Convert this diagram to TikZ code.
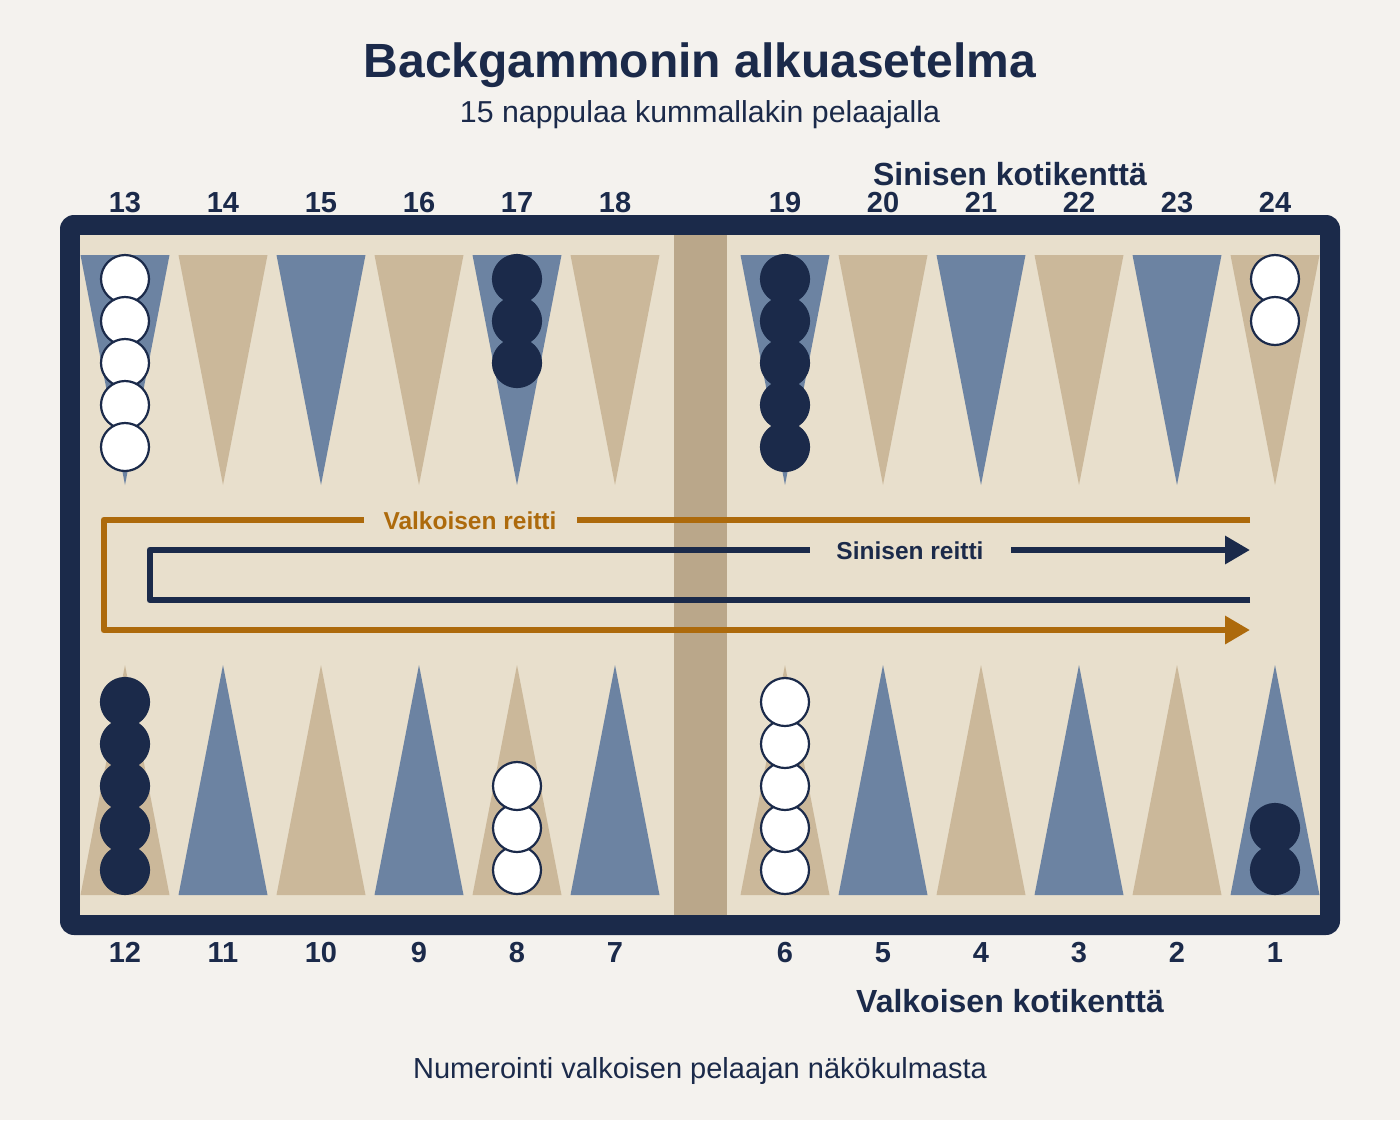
\documentclass[tikz,border=0pt]{standalone}
\usepackage{fontspec}
\setmainfont{Liberation Sans}
\usetikzlibrary{arrows.meta}
\definecolor{bg}{HTML}{F4F2EE}
\definecolor{board}{HTML}{E8DFCC}
\definecolor{tanpt}{HTML}{CBB89A}
\definecolor{bluept}{HTML}{6C83A2}
\definecolor{barc}{HTML}{BAA78A}
\definecolor{navy}{HTML}{1B2A4A}
\definecolor{orng}{HTML}{AD6A0C}
\begin{document}
\begin{tikzpicture}[x=1pt,y=-1pt,
  txt/.style={text=navy, inner sep=0pt, anchor=base},
  numlbl/.style={txt, font=\fontsize{29}{31}\selectfont\bfseries},
  wchk/.style={fill=white, draw=navy, line width=2.2pt},
  bchk/.style={fill=navy, draw=navy, line width=2.2pt},
  oroute/.style={draw=orng, line width=6.8pt, line join=round},
  broute/.style={draw=navy, line width=6.8pt, line join=round},
  tip/.style={-{Triangle[length=25pt,width=27pt]}},
  routelbl/.style={inner sep=0pt, anchor=base, font=\fontsize{24.5}{26}\selectfont\bfseries}]
\fill[bg] (0,0) rectangle (1400,1120);
\useasboundingbox (0,0) rectangle (1400,1120);

% titles
\node[txt, font=\fontsize{48}{52}\selectfont\bfseries] (title) at (700,77) {Backgammonin alkuasetelma};
\node[txt, font=\fontsize{30.3}{32}\selectfont] (subtitle) at (700,122) {15 nappulaa kummallakin pelaajalla};
\node[txt, font=\fontsize{32}{34}\selectfont\bfseries] (bluehome) at (1010,185) {Sinisen kotikenttä};

% board
\fill[navy, rounded corners=14pt] (60,215) rectangle (1340,935);
\fill[board] (80,235) rectangle (1320,915);
\fill[barc] (674,235) rectangle (727,915);

% points
\foreach \i in {0,...,5}{
  \pgfmathsetmacro{\xl}{125+98*\i}
  \pgfmathsetmacro{\xr}{785+98*\i}
  \pgfmathtruncatemacro{\ev}{mod(\i,2)}
  \ifnum\ev=0
    \def\ctop{bluept}\def\cbot{tanpt}
  \else
    \def\ctop{tanpt}\def\cbot{bluept}
  \fi
  \fill[\ctop] (\xl-44.5,255) -- (\xl+44.5,255) -- (\xl,485) -- cycle;
  \fill[\ctop] (\xr-44.5,255) -- (\xr+44.5,255) -- (\xr,485) -- cycle;
  \fill[\cbot] (\xl-44.5,895) -- (\xl+44.5,895) -- (\xl,665) -- cycle;
  \fill[\cbot] (\xr-44.5,895) -- (\xr+44.5,895) -- (\xr,665) -- cycle;
  \pgfmathtruncatemacro{\ntl}{13+\i}
  \pgfmathtruncatemacro{\ntr}{19+\i}
  \pgfmathtruncatemacro{\nbl}{12-\i}
  \pgfmathtruncatemacro{\nbr}{6-\i}
  \node[numlbl] (n\ntl) at (\xl,212) {\ntl};
  \node[numlbl] (n\ntr) at (\xr,212) {\ntr};
  \node[numlbl] (n\nbl) at (\xl,962) {\nbl};
  \node[numlbl] (n\nbr) at (\xr,962) {\nbr};
}

% checkers
\foreach \k in {0,...,4} \draw[wchk] (125,279+42*\k) circle[radius=24pt];
\foreach \k in {0,...,2} \draw[bchk] (517,279+42*\k) circle[radius=24pt];
\foreach \k in {0,...,4} \draw[bchk] (785,279+42*\k) circle[radius=24pt];
\foreach \k in {0,...,1} \draw[wchk] (1275,279+42*\k) circle[radius=24pt];
\foreach \k in {0,...,4} \draw[bchk] (125,870-42*\k) circle[radius=24pt];
\foreach \k in {0,...,2} \draw[wchk] (517,870-42*\k) circle[radius=24pt];
\foreach \k in {0,...,4} \draw[wchk] (785,870-42*\k) circle[radius=24pt];
\foreach \k in {0,...,1} \draw[bchk] (1275,870-42*\k) circle[radius=24pt];

% routes
\coordinate (oS) at (1250,520);
\coordinate (oG1) at (577,520);
\coordinate (oG2) at (364,520);
\coordinate (oC1) at (104,520);
\coordinate (oC2) at (104,630);
\coordinate (oE) at (1250,630);
\draw[oroute] (oS) -- (oG1);
\draw[oroute, tip] (oG2) -- (oC1) -- (oC2) -- (oE);
\node[routelbl, text=orng] (olbl) at (470,529.5) {Valkoisen reitti};

\coordinate (bS) at (1250,600);
\coordinate (bC1) at (150,600);
\coordinate (bC2) at (150,550);
\coordinate (bG1) at (810,550);
\coordinate (bG2) at (1011,550);
\coordinate (bE) at (1250,550);
\draw[broute] (bS) -- (bC1) -- (bC2) -- (bG1);
\draw[broute, tip] (bG2) -- (bE);
\node[routelbl, text=navy] (blbl) at (910,559.5) {Sinisen reitti};

% bottom texts
\node[txt, font=\fontsize{32}{34}\selectfont\bfseries] (whitehome) at (1010,1012) {Valkoisen kotikenttä};
\node[txt, font=\fontsize{29}{31}\selectfont] (footer) at (700,1078) {Numerointi valkoisen pelaajan näkökulmasta};
\end{tikzpicture}
\end{document}
